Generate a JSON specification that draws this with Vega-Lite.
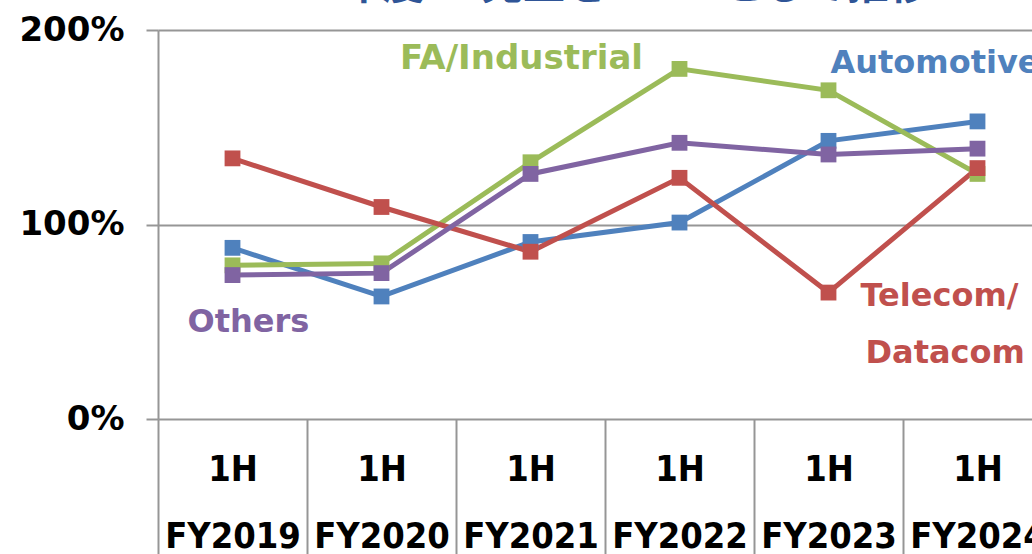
{
  "$schema": "https://vega.github.io/schema/vega-lite/v6.json",
  "autosize": {"type": "none"},
  "padding": {"left": 158, "top": 30, "right": 0, "bottom": 135},
  "width": 874,
  "height": 389,
  "background": "white",
  "title": {
    "text": "2019年度1H売上を100%として推移",
    "font": "Noto Sans CJK JP",
    "fontWeight": "bold",
    "fontSize": 42,
    "color": "#2F5597",
    "anchor": "middle",
    "baseline": "alphabetic",
    "offset": 0,
    "dy": 28,
    "dx": -9
  },
  "config": {
    "view": {"stroke": null},
    "font": "DejaVu Sans"
  },
  "datasets": {
    "series": [
      {"period": "1H\nFY2019", "segment": "Automotive", "value": 88},
      {"period": "1H\nFY2020", "segment": "Automotive", "value": 63},
      {"period": "1H\nFY2021", "segment": "Automotive", "value": 91},
      {"period": "1H\nFY2022", "segment": "Automotive", "value": 101},
      {"period": "1H\nFY2023", "segment": "Automotive", "value": 143},
      {"period": "1H\nFY2024", "segment": "Automotive", "value": 153},
      {"period": "1H\nFY2019", "segment": "FA/Industrial", "value": 79},
      {"period": "1H\nFY2020", "segment": "FA/Industrial", "value": 80},
      {"period": "1H\nFY2021", "segment": "FA/Industrial", "value": 132},
      {"period": "1H\nFY2022", "segment": "FA/Industrial", "value": 180},
      {"period": "1H\nFY2023", "segment": "FA/Industrial", "value": 169},
      {"period": "1H\nFY2024", "segment": "FA/Industrial", "value": 126},
      {"period": "1H\nFY2019", "segment": "Telecom/Datacom", "value": 134},
      {"period": "1H\nFY2020", "segment": "Telecom/Datacom", "value": 109},
      {"period": "1H\nFY2021", "segment": "Telecom/Datacom", "value": 86},
      {"period": "1H\nFY2022", "segment": "Telecom/Datacom", "value": 124},
      {"period": "1H\nFY2023", "segment": "Telecom/Datacom", "value": 65},
      {"period": "1H\nFY2024", "segment": "Telecom/Datacom", "value": 129},
      {"period": "1H\nFY2019", "segment": "Others", "value": 74},
      {"period": "1H\nFY2020", "segment": "Others", "value": 75},
      {"period": "1H\nFY2021", "segment": "Others", "value": 126},
      {"period": "1H\nFY2022", "segment": "Others", "value": 142},
      {"period": "1H\nFY2023", "segment": "Others", "value": 136},
      {"period": "1H\nFY2024", "segment": "Others", "value": 139}
    ],
    "labels": [
      {"period": "1H\nFY2021", "segment": "FA/Industrial", "text": "FA/Industrial", "value": 185, "anchor": "c"},
      {"period": "1H\nFY2023", "segment": "Automotive", "text": "Automotive", "value": 183, "anchor": "l"},
      {"period": "1H\nFY2023", "segment": "Telecom/Datacom", "text": "Telecom/", "value": 63, "anchor": "t1"},
      {"period": "1H\nFY2023", "segment": "Telecom/Datacom", "text": "Datacom", "value": 34, "anchor": "t2"},
      {"period": "1H\nFY2019", "segment": "Others", "text": "Others", "value": 50, "anchor": "o"}
    ]
  },
  "data": {"name": "series"},
  "encoding": {
    "x": {
      "field": "period",
      "type": "nominal",
      "sort": null,
      "scale": {"range": [0, 894], "paddingInner": 0, "paddingOuter": 0},
      "axis": {
        "title": null,
        "labelAngle": 0,
        "labelExpr": "split(datum.label, '\\n')",
        "labelFont": "DejaVu Sans Condensed",
        "labelFontWeight": "bold",
        "labelFontSize": 36,
        "labelColor": "#000000",
        "labelLineHeight": 67,
        "labelBaseline": "alphabetic",
        "labelPadding": -79,
        "tickBand": "extent",
        "tickSize": 140,
        "tickColor": "#969696",
        "tickWidth": 2,
        "domain": false,
        "grid": false
      }
    },
    "y": {
      "field": "value",
      "type": "quantitative",
      "scale": {"domain": [0, 200], "nice": false},
      "axis": {
        "title": null,
        "values": [0, 100, 200],
        "labelExpr": "datum.value + '%'",
        "labelFont": "DejaVu Sans",
        "labelFontWeight": "bold",
        "labelFontSize": 34,
        "labelColor": "#000000",
        "labelPadding": 22,
        "tickSize": 12,
        "tickColor": "#969696",
        "tickWidth": 2,
        "domainColor": "#969696",
        "domainWidth": 2,
        "grid": true,
        "gridColor": "#969696",
        "gridWidth": 2
      }
    },
    "color": {
      "field": "segment",
      "type": "nominal",
      "scale": {
        "domain": ["Automotive", "FA/Industrial", "Telecom/Datacom", "Others"],
        "range": ["#4F81BD", "#9BBB59", "#C0504D", "#8064A2"]
      },
      "legend": null
    }
  },
  "layer": [
    {"mark": {"type": "line", "strokeWidth": 5}},
    {"mark": {"type": "point", "shape": "square", "filled": true, "opacity": 1, "size": 250}},
    {
      "data": {"name": "labels"},
      "transform": [{"filter": "datum.anchor == 'c'"}],
      "mark": {"type": "text", "font": "DejaVu Sans", "fontWeight": "bold", "fontSize": 34, "align": "center", "baseline": "middle", "dx": -9},
      "encoding": {"text": {"field": "text"}}
    },
    {
      "data": {"name": "labels"},
      "transform": [{"filter": "datum.anchor == 'l'"}],
      "mark": {"type": "text", "font": "DejaVu Sans", "fontWeight": "bold", "fontSize": 32, "align": "left", "baseline": "middle", "dx": 2},
      "encoding": {"text": {"field": "text"}}
    },
    {
      "data": {"name": "labels"},
      "transform": [{"filter": "datum.anchor == 't1'"}],
      "mark": {"type": "text", "font": "DejaVu Sans", "fontWeight": "bold", "fontSize": 32, "align": "left", "baseline": "middle", "dx": 32},
      "encoding": {"text": {"field": "text"}}
    },
    {
      "data": {"name": "labels"},
      "transform": [{"filter": "datum.anchor == 't2'"}],
      "mark": {"type": "text", "font": "DejaVu Sans", "fontWeight": "bold", "fontSize": 32, "align": "left", "baseline": "middle", "dx": 37},
      "encoding": {"text": {"field": "text"}}
    },
    {
      "data": {"name": "labels"},
      "transform": [{"filter": "datum.anchor == 'o'"}],
      "mark": {"type": "text", "font": "DejaVu Sans", "fontWeight": "bold", "fontSize": 32, "align": "left", "baseline": "middle", "dx": -45},
      "encoding": {"text": {"field": "text"}}
    }
  ]
}
